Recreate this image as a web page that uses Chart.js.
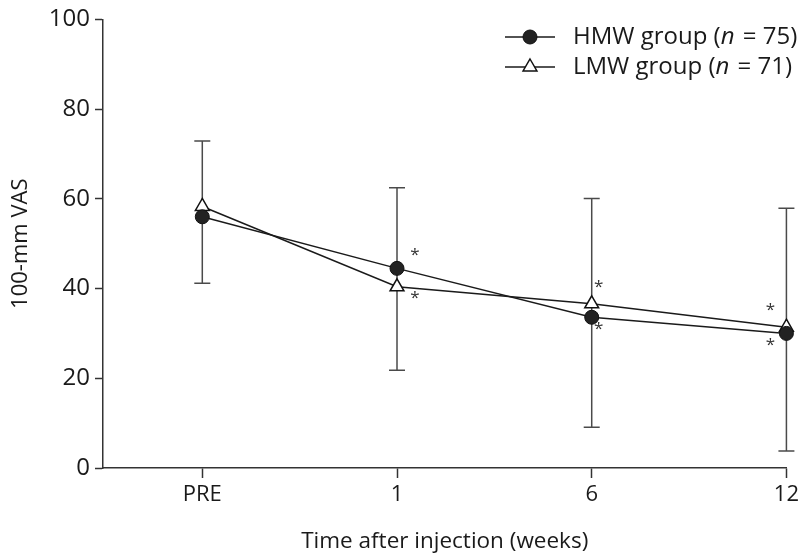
<!DOCTYPE html>
<html>
<head>
<meta charset="utf-8">
<script src="https://cdn.jsdelivr.net/npm/chart.js@4"></script>
<style>
  body { margin: 0; background: #fff; }
  #wrap { width: 803px; height: 555px; }
</style>
</head>
<body>
<div id="wrap"><canvas id="vasChart" width="803" height="555"></canvas></div>
<script>
// categories and values
const categories = ['PRE', '1', '6', '12'];
const hmwValues = [56, 44.5, 33.6, 30];
const lmwValues = [58.3, 40.4, 36.6, 31.4];
// error bar ends (one bar per time point)
const errUpper = [72.9, 62.5, 60.1, 57.9];
const errLower = [41.2, 21.8, 9.1, 3.8];
// significance marks (true = asterisk)
const hmwStars = [false, true, true, true];
const lmwStars = [false, true, true, true];
const yTicks = [0, 20, 40, 60, 80, 100];

const FONT = '"Open Sans", "Noto Sans", sans-serif';
const INK = '#1a1a1a';

// 에러바
const errorBarPlugin = {
    id: 'errorBars',
    beforeDatasetsDraw(chart) {
        const { ctx, scales: { x, y } } = chart;
        ctx.save();
        ctx.strokeStyle = '#4a4a4a';
        ctx.lineWidth = 1.5;
        categories.forEach((c, i) => {
            const px = x.getPixelForValue(i);
            const top = y.getPixelForValue(errUpper[i]);
            const bot = y.getPixelForValue(errLower[i]);
            ctx.beginPath();
            ctx.moveTo(px, top); ctx.lineTo(px, bot);
            ctx.moveTo(px - 8, top); ctx.lineTo(px + 8, top);
            ctx.moveTo(px - 8, bot); ctx.lineTo(px + 8, bot);
            ctx.stroke();
        });
        ctx.restore();
    }
};

// 별표
const starPlugin = {
    id: 'stars',
    afterDatasetsDraw(chart) {
        const { ctx, scales: { x, y } } = chart;
        const dxs = [18, 18, 7, -16];
        ctx.save();
        ctx.fillStyle = '#333';
        ctx.font = '17px ' + FONT;
        ctx.textAlign = 'center';
        ctx.textBaseline = 'middle';
        categories.forEach((c, i) => {
            const px = x.getPixelForValue(i) + dxs[i];
            const hy = y.getPixelForValue(hmwValues[i]);
            const ly = y.getPixelForValue(lmwValues[i]);
            const hmwUpper = hmwValues[i] > lmwValues[i];
            if (hmwStars[i]) {
                ctx.fillText('*', px, hy + (hmwUpper ? -13 : 12));
            }
            if (lmwStars[i]) {
                ctx.fillText('*', px, ly + (hmwUpper ? 11 : -17));
            }
        });
        ctx.restore();
    }
};

// 범례
const legendPlugin = {
    id: 'customLegend',
    afterDraw(chart) {
        const { ctx } = chart;
        const rows = [
            { pre: 'HMW group (', post: ' = 75)', ds: 0, y: 37 },
            { pre: 'LMW group (', post: ' = 71)', ds: 1, y: 67 }
        ];
        ctx.save();
        rows.forEach(r => {
            const ds = chart.data.datasets[r.ds];
            ctx.strokeStyle = INK;
            ctx.lineWidth = 1.5;
            ctx.beginPath();
            ctx.moveTo(505, r.y); ctx.lineTo(555, r.y);
            ctx.stroke();
            ctx.fillStyle = ds.pointBackgroundColor;
            ctx.strokeStyle = ds.pointBorderColor;
            ctx.lineWidth = ds.pointBorderWidth;
            ctx.beginPath();
            if (ds.pointStyle === 'circle') {
                ctx.arc(530, r.y, ds.pointRadius, 0, Math.PI * 2);
            } else {
                const rr = ds.pointRadius;
                ctx.moveTo(530, r.y - rr);
                ctx.lineTo(530 + rr * 0.866, r.y + rr * 0.5);
                ctx.lineTo(530 - rr * 0.866, r.y + rr * 0.5);
                ctx.closePath();
            }
            ctx.fill(); ctx.stroke();

            ctx.fillStyle = INK;
            ctx.textBaseline = 'middle';
            ctx.textAlign = 'left';
            let tx = 573;
            const size = 24;
            ctx.font = size + 'px ' + FONT;
            ctx.fillText(r.pre, tx, r.y);
            tx += ctx.measureText(r.pre).width;
            ctx.font = 'italic ' + size + 'px ' + FONT;
            ctx.fillText('n', tx, r.y);
            tx += ctx.measureText('n').width + 2;
            ctx.font = size + 'px ' + FONT;
            ctx.fillText(r.post, tx, r.y);
        });
        ctx.restore();
    }
};

const chartData = {
    datasets: [
        {
            label: 'HMW group (n = 75)',
            data: hmwValues.map((v, i) => ({ x: i, y: v })),
            borderColor: INK,
            borderWidth: 1.5,
            pointStyle: 'circle',
            pointRadius: 7,
            pointBackgroundColor: '#222',
            pointBorderColor: '#111',
            pointBorderWidth: 1,
            tension: 0,
            clip: false
        },
        {
            label: 'LMW group (n = 71)',
            data: lmwValues.map((v, i) => ({ x: i, y: v })),
            borderColor: INK,
            borderWidth: 1.5,
            pointStyle: 'triangle',
            pointRadius: 8,
            pointBackgroundColor: '#fff',
            pointBorderColor: '#111',
            pointBorderWidth: 1.5,
            tension: 0,
            clip: false
        }
    ]
};

const chartOptions = {
    responsive: false,
    animation: false,
    layout: { padding: { top: 18, right: 14, left: 0, bottom: 0 } },
    plugins: {
        legend: { display: false },
        tooltip: { enabled: false },
        title: { display: false }
    },
    scales: {
        x: {
            type: 'linear',
            min: -0.51,
            max: 3,
            afterBuildTicks: scale => { scale.ticks = categories.map((c, i) => ({ value: i })); },
            afterFit: scale => { scale.height = 87; },
            grid: { drawOnChartArea: false, tickLength: 10, tickColor: '#333', tickWidth: 1.5 },
            border: { color: '#333', width: 1.5 },
            ticks: {
                callback: v => categories[v],
                color: INK,
                font: { family: FONT, size: 22 },
                padding: 4,
                maxRotation: 0,
                autoSkip: false
            },
            title: {
                display: true,
                text: 'Time after injection (weeks)',
                color: INK,
                font: { family: FONT, size: 22.5 },
                padding: { top: 2, bottom: 0 }
            }
        },
        y: {
            min: 0,
            max: 100,
            afterBuildTicks: scale => { scale.ticks = yTicks.map(v => ({ value: v })); },
            afterFit: scale => { scale.width = 103; },
            grid: { drawOnChartArea: false, tickLength: 8, tickColor: '#333', tickWidth: 1.5 },
            border: { color: '#333', width: 1.5 },
            ticks: {
                color: INK,
                font: { family: FONT, size: 24 },
                padding: 5
            },
            title: {
                display: true,
                text: '100-mm VAS',
                color: INK,
                font: { family: FONT, size: 22 },
                padding: { top: 8, bottom: 0 }
            }
        }
    }
};

new Chart(document.getElementById('vasChart'), {
    type: 'line',
    data: chartData,
    options: chartOptions,
    plugins: [errorBarPlugin, starPlugin, legendPlugin]
});
</script>
</body>
</html>
